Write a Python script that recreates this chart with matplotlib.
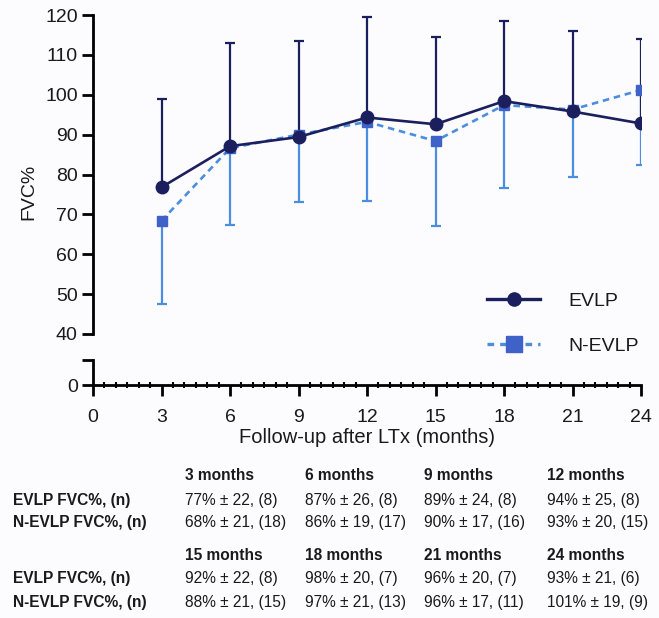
import matplotlib
matplotlib.use("Agg")
import matplotlib.pyplot as plt
from matplotlib.lines import Line2D
from matplotlib.ticker import MultipleLocator

plt.rcParams['font.family'] = ['Liberation Sans', 'DejaVu Sans']

months = [3, 6, 9, 12, 15, 18, 21, 24]
evlp_mean = [76.8, 87.1, 89.4, 94.3, 92.6, 98.4, 95.8, 92.8]
evlp_upper = [99.0, 113.1, 113.4, 119.4, 114.6, 118.5, 115.9, 114.0]
nevlp_mean = [68.4, 86.6, 90.0, 93.2, 88.4, 97.4, 96.3, 101.2]
nevlp_lower = [47.6, 67.4, 73.0, 73.3, 67.2, 76.5, 79.3, 82.3]

table_headers = [["3 months", "6 months", "9 months", "12 months"],
                 ["15 months", "18 months", "21 months", "24 months"]]
table_evlp = [["77% ± 22, (8)", "87% ± 26, (8)", "89% ± 24, (8)", "94% ± 25, (8)"],
              ["92% ± 22, (8)", "98% ± 20, (7)", "96% ± 20, (7)", "93% ± 21, (6)"]]
table_nevlp = [["68% ± 21, (18)", "86% ± 19, (17)", "90% ± 17, (16)", "93% ± 20, (15)"],
               ["88% ± 21, (15)", "97% ± 21, (13)", "96% ± 17, (11)", "101% ± 19, (9)"]]

navy = "#1b1f5e"
blue = "#3f62c8"
lightblue = "#4b8ee0"
txt = "#1a1a1a"

W, H = 659, 618
fig = plt.figure(figsize=(W / 100, H / 100), dpi=100, facecolor='#fcfcfe')

def fx(px):
    return px / W

def fy(py):
    return 1 - py / H

left, right = 93, 641
ax = fig.add_axes([fx(left), fy(334), fx(right - left), fy(15) - fy(334)])
ax2 = fig.add_axes([fx(left), fy(385), fx(right - left), fy(360) - fy(385)])

# error bars (one-sided)
up = [u - m for u, m in zip(evlp_upper, evlp_mean)]
lo = [m - l for m, l in zip(nevlp_mean, nevlp_lower)]
ax.errorbar(months, nevlp_mean, yerr=[lo, [0] * len(lo)], fmt='none',
            ecolor=lightblue, elinewidth=1.6, capsize=3.8, capthick=1.6, zorder=2)
ax.errorbar(months, evlp_mean, yerr=[[0] * len(up), up], fmt='none',
            ecolor=navy, elinewidth=1.6, capsize=3.8, capthick=1.6, zorder=2)
ax.plot(months, nevlp_mean, ls='--', color=lightblue, lw=1.9, marker='s',
        ms=7.5, mfc=blue, mec=blue, zorder=3, dashes=(2.5, 1.8))
ax.plot(months, evlp_mean, ls='-', color=navy, lw=1.9, marker='o',
        ms=9, mfc=navy, mec=navy, zorder=4)

ax.set_xlim(0, 24)
ax.set_ylim(40, 120)
ax.set_yticks(range(40, 121, 10))
ax.set_yticks([40], minor=True)
for s in ['top', 'right', 'bottom']:
    ax.spines[s].set_visible(False)
ax.spines['left'].set_linewidth(2)
ax.tick_params(axis='x', which='both', bottom=False, labelbottom=False)
ax.tick_params(axis='y', length=8, width=2, labelsize=14, pad=3, labelcolor=txt)
ax.tick_params(axis='y', which='minor', direction='inout', length=16, width=2)
ax.patch.set_alpha(0)

ax2.set_xlim(0, 24)
ax2.set_ylim(0, 1)
ax2.set_yticks([0, 1])
ax2.set_yticklabels(['0', ''])
ax2.set_yticks([1], minor=True)
for s in ['top', 'right']:
    ax2.spines[s].set_visible(False)
ax2.spines['left'].set_linewidth(2)
ax2.spines['bottom'].set_linewidth(2)
ax2.set_xticks(range(0, 25, 3))
ax2.xaxis.set_minor_locator(MultipleLocator(0.5))
ax2.tick_params(axis='x', which='major', length=8, width=2, labelsize=14, pad=9,
                labelcolor=txt)
ax2.tick_params(axis='x', which='minor', direction='inout', length=4, width=1.5)
ax2.tick_params(axis='y', which='major', length=8, width=2, labelsize=14, pad=3,
                labelcolor=txt)
ax2.tick_params(axis='y', which='minor', direction='inout', length=16, width=2)
ax2.patch.set_alpha(0)
ax2.set_xlabel('Follow-up after LTx (months)', fontsize=14.5, labelpad=2, color=txt)

fig.text(fx(29), fy(192), 'FVC%', rotation=90, fontsize=14, ha='center',
         va='center', color=txt)

handles = [Line2D([], [], color=navy, lw=2.4, marker='o', ms=9.5, mfc=navy, mec=navy),
           Line2D([], [], color=lightblue, lw=2.4, ls='--', dashes=(2, 1.8),
                  marker='s', ms=11, mfc=blue, mec=blue)]
fig.legend(handles, ['EVLP', 'N-EVLP'], loc='upper left', frameon=False,
           bbox_to_anchor=(fx(487), fy(292)), bbox_transform=fig.transFigure,
           borderpad=0, borderaxespad=0, handlelength=2.75, handletextpad=1.45,
           labelspacing=1.42, fontsize=14, labelcolor=txt)

# summary table
cols = [185, 305, 424, 547]
block_y = [476, 555]
fs = 11.2
for b in range(2):
    y0 = block_y[b]
    fig.text(fx(13), fy(y0 + 24), 'EVLP FVC%, (n)', fontsize=fs,
             fontweight='bold', va='center', color=txt)
    fig.text(fx(13), fy(y0 + 47), 'N-EVLP FVC%, (n)', fontsize=fs,
             fontweight='bold', va='center', color=txt)
    for c in range(4):
        fig.text(fx(cols[c]), fy(y0), table_headers[b][c], fontsize=fs,
                 fontweight='bold', va='center', color=txt)
        fig.text(fx(cols[c]), fy(y0 + 24), table_evlp[b][c], fontsize=fs,
                 va='center', color=txt)
        fig.text(fx(cols[c]), fy(y0 + 47), table_nevlp[b][c], fontsize=fs,
                 va='center', color=txt)

fig.savefig('out.png', dpi=100, facecolor=fig.get_facecolor())
